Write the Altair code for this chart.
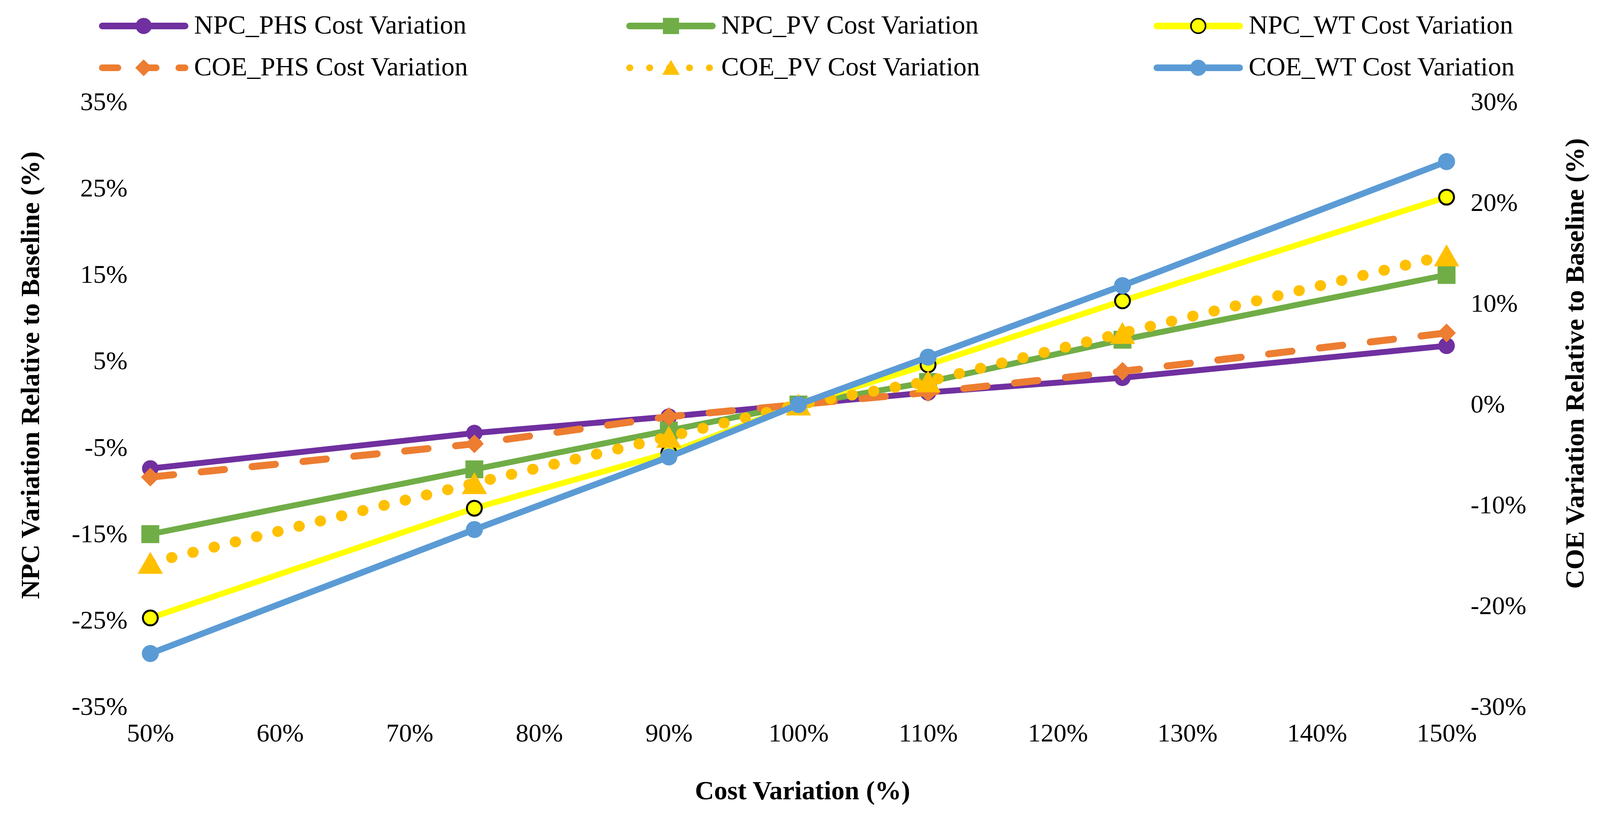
import altair as alt
import pandas as pd

# x: cost variation (%) of the component
COST = [50, 75, 90, 100, 110, 125, 150]

# NPC change relative to baseline (%), left axis
NPC_PHS = [-7.4, -3.3, -1.4, 0.0, 1.4, 3.1, 6.8]
NPC_PV = [-15.0, -7.5, -3.0, 0.0, 2.6, 7.5, 15.0]
NPC_WT = [-24.7, -12.0, -5.6, 0.0, 4.6, 12.0, 24.0]

# COE change relative to baseline (%), right axis
COE_PHS = [-7.2, -3.9, -1.2, 0.0, 1.2, 3.3, 7.1]
COE_PV = [-15.7, -7.8, -3.2, 0.0, 2.3, 7.1, 14.8]
COE_WT = [-24.7, -12.4, -5.2, 0.0, 4.7, 11.8, 24.1]

COST_TICKS = [50, 60, 70, 80, 90, 100, 110, 120, 130, 140, 150]
NPC_TICKS = [-35, -25, -15, -5, 5, 15, 25, 35]
COE_TICKS = [-30, -20, -10, 0, 10, 20, 30]

NPC_SERIES = {
    "NPC_PHS Cost Variation": NPC_PHS,
    "NPC_PV Cost Variation": NPC_PV,
    "NPC_WT Cost Variation": NPC_WT,
}
COE_SERIES = {
    "COE_PHS Cost Variation": COE_PHS,
    "COE_PV Cost Variation": COE_PV,
    "COE_WT Cost Variation": COE_WT,
}
LEGEND_ORDER = list(NPC_SERIES) + list(COE_SERIES)

STYLE = {
    "NPC_PHS Cost Variation": dict(color="#7030A0", width=15, dash=None, shape="circle", size=1800, edge="#7030A0", edge_width=0),
    "NPC_PV Cost Variation": dict(color="#70AD47", width=15, dash=None, shape="square", size=2100, edge="#70AD47", edge_width=0),
    "NPC_WT Cost Variation": dict(color="#FFFF00", width=15, dash=None, shape="circle", size=1450, edge="#000000", edge_width=5),
    "COE_PHS Cost Variation": dict(color="#ED7D31", width=18, dash=[60, 71], shape="diamond", size=2300, edge="#ED7D31", edge_width=0),
    "COE_PV Cost Variation": dict(color="#FFC000", width=28, dash=[1, 55], shape="triangle-up", size=4200, edge="#FFC000", edge_width=0),
    "COE_WT Cost Variation": dict(color="#5B9BD5", width=16, dash=None, shape="circle", size=1900, edge="#5B9BD5", edge_width=0),
}
LEGEND_DASH = {
    "COE_PHS Cost Variation": [40, 58],
    "COE_PV Cost Variation": [1, 50],
}

FONT = "Liberation Serif"
PLOT_W, PLOT_H = 3320, 1549

rows = []
for group, series in (("npc", NPC_SERIES), ("coe", COE_SERIES)):
    for name, values in series.items():
        for cost, value in zip(COST, values):
            rows.append({"cost": cost, "series": name, "group": group, "value": value})
frame = pd.DataFrame(rows)

legend_frame = pd.DataFrame({
    "series": LEGEND_ORDER,
    "lcol": [i % 3 for i in range(len(LEGEND_ORDER))],
    "lrow": [i // 3 for i in range(len(LEGEND_ORDER))],
})


def percent_axis(**kw):
    return alt.Axis(
        labelExpr="datum.value + '%'",
        domain=False,
        ticks=False,
        tickSize=0,
        grid=False,
        labelFlush=False,
        labelOverlap=False,
        labelFont=FONT,
        labelFontSize=66,
        labelColor="black",
        titleFont=FONT,
        titleFontSize=68,
        titleFontWeight="bold",
        titleColor="black",
        **kw,
    )


x_enc = alt.X(
    "cost:Q",
    scale=alt.Scale(domain=[50, 150], nice=False),
    axis=percent_axis(
        values=COST_TICKS,
        title="Cost Variation (%)",
        labelPadding=88,
        labelBaseline="alphabetic",
        titleX=1670,
        titleY=236,
        titleAlign="center",
        titleBaseline="alphabetic",
    ),
)
npc_y = alt.Y(
    "value:Q",
    scale=alt.Scale(domain=[-35, 35], nice=False),
    axis=percent_axis(
        orient="left",
        values=NPC_TICKS,
        title="NPC Variation Relative to Baseline (%)",
        labelPadding=59,
        titleAngle=270,
        titleX=-305,
        titleY=699,
        titleAlign="center",
        titleBaseline="middle",
    ),
)
coe_y = alt.Y(
    "value:Q",
    scale=alt.Scale(domain=[-30, 30], nice=False),
    axis=percent_axis(
        orient="right",
        values=COE_TICKS,
        title="COE Variation Relative to Baseline (%)",
        labelPadding=61,
        titleAngle=270,
        titleX=330,
        titleY=669,
        titleAlign="center",
        titleBaseline="middle",
    ),
)


def series_layers(name, y_enc):
    st = STYLE[name]
    base = (
        alt.Chart(frame)
        .transform_filter(alt.datum.series == name)
        .encode(x=x_enc, y=y_enc)
    )
    line_kw = dict(color=st["color"], strokeWidth=st["width"], strokeCap="round", strokeJoin="round")
    if st["dash"]:
        line_kw["strokeDash"] = st["dash"]
    line = base.mark_line(**line_kw)
    points = base.mark_point(
        filled=True,
        shape=st["shape"],
        size=st["size"],
        color=st["color"],
        fill=st["color"],
        stroke=st["edge"],
        strokeWidth=st["edge_width"],
        opacity=1,
    )
    return [line, points]


npc_layers = []
for name in NPC_SERIES:
    npc_layers += series_layers(name, npc_y)
coe_layers = []
for name in COE_SERIES:
    coe_layers += series_layers(name, coe_y)

main = alt.layer(alt.layer(*npc_layers), alt.layer(*coe_layers)).resolve_scale(y="independent")

# legend drawn as marks above the plot, three columns by two rows
series_scale = dict(domain=LEGEND_ORDER)
leg_x = alt.X("lcol:Q", scale=alt.Scale(domain=[0, 2], range=[-123, 2578]), axis=None)
leg_y = alt.Y("lrow:Q", scale=alt.Scale(domain=[0, 1], range=[-195, -88]), axis=None)
leg_base = alt.Chart(legend_frame).encode(x=leg_x, y=leg_y)

leg_lines = leg_base.mark_rule(strokeWidth=17, strokeCap="round", x2Offset=212).encode(
    x2="lcol:Q",
    color=alt.Color(
        "series:N",
        scale=alt.Scale(range=[STYLE[s]["color"] for s in LEGEND_ORDER], **series_scale),
        legend=None,
    ),
    strokeDash=alt.StrokeDash(
        "series:N",
        scale=alt.Scale(range=[LEGEND_DASH.get(s, [1, 0]) for s in LEGEND_ORDER], **series_scale),
        legend=None,
    ),
)
leg_points = leg_base.mark_point(filled=True, size=1400, opacity=1, strokeWidth=4, xOffset=106).encode(
    shape=alt.Shape(
        "series:N",
        scale=alt.Scale(range=[STYLE[s]["shape"] for s in LEGEND_ORDER], **series_scale),
        legend=None,
    ),
    fill=alt.Fill(
        "series:N",
        scale=alt.Scale(range=[STYLE[s]["color"] for s in LEGEND_ORDER], **series_scale),
        legend=None,
    ),
    stroke=alt.Stroke(
        "series:N",
        scale=alt.Scale(range=[STYLE[s]["edge"] for s in LEGEND_ORDER], **series_scale),
        legend=None,
    ),
)
leg_text = leg_base.mark_text(
    align="left", baseline="middle", xOffset=235, font=FONT, fontSize=68, color="black"
).encode(text="series:N")

legend = alt.layer(leg_lines, leg_points, leg_text)

chart = (
    alt.layer(main, legend)
    .resolve_scale(x="independent", y="independent", color="independent",
                   stroke="independent", fill="independent")
    .properties(
        width=PLOT_W,
        height=PLOT_H,
        autosize=alt.AutoSizeParams(type="none"),
        padding={"left": 377, "top": 253, "right": 385, "bottom": 281},
        background="white",
    )
    .configure_view(strokeWidth=0)
)

chart.save("out.html", embed_options={"renderer": "svg", "actions": False})
